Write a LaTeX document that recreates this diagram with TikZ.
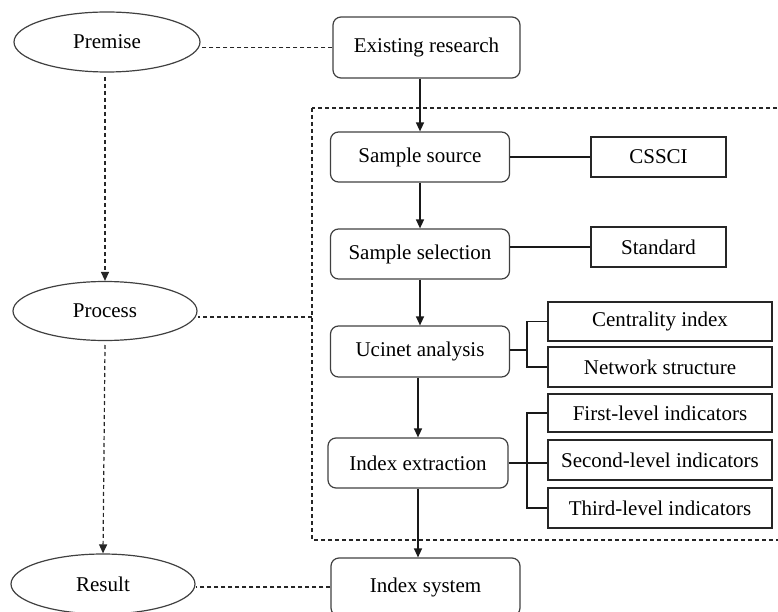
\documentclass[tikz,border=0pt]{standalone}
\usepackage{fontspec}
\setmainfont{Liberation Serif}
\newfontfamily\tnr{Liberation Serif}
\usetikzlibrary{shapes.geometric,arrows.meta}
\begin{document}
\begin{tikzpicture}[x=1pt,y=-1pt,
  every node/.style={font=\tnr\fontsize{21}{24}\selectfont, inner sep=0pt, text=black},
  stagebox/.style={draw=black!75, line width=1.2pt, ellipse},
  roundbox/.style={draw=black!75, line width=1.2pt, rounded corners=8pt, rectangle},
  sidebox/.style={draw=black!85, line width=1.3pt, rectangle, minimum width=135pt, minimum height=40pt},
  widebox/.style={draw=black!85, line width=1.3pt, rectangle, minimum width=224pt},
  dline/.style={draw=black!85, line width=1.2pt, dash pattern=on 4pt off 3pt},
  sline/.style={draw=black!90, line width=1.3pt},
  arr/.style={-{Triangle[length=9pt,width=8pt]}}
]
\useasboundingbox (0,0) rectangle (778,612);

% ellipses
\node[stagebox, minimum width=186pt, minimum height=60pt] (premise) at (107,42) {Premise};
\node[stagebox, minimum width=184pt, minimum height=59pt] (process) at (105,311) {Process};
\node[stagebox, minimum width=184pt, minimum height=60pt] (result) at (103,584) {Result};

% main column
\node[roundbox, minimum width=187pt, minimum height=61pt] (exist) at (426.5,47.5) {Existing research};
\node[roundbox, minimum width=179pt, minimum height=50pt] (ssource) at (420,157) {Sample source};
\node[roundbox, minimum width=179pt, minimum height=50pt] (ssel) at (420,254) {Sample selection};
\node[roundbox, minimum width=179pt, minimum height=51pt] (ucinet) at (420,351.5) {Ucinet analysis};
\node[roundbox, minimum width=180pt, minimum height=50pt] (iext) at (418,463) {Index extraction};
\node[roundbox, minimum width=189pt, minimum height=58pt] (isys) at (425.5,587) {Index system};

% side boxes
\node[sidebox] (cssci) at (658.5,157) {CSSCI};
\node[sidebox] (standard) at (658.5,247) {Standard};
\node[widebox, minimum height=39pt] (central) at (660,321.5) {Centrality index};
\node[widebox, minimum height=40pt] (network) at (660,367) {Network structure};
\node[widebox, minimum height=38pt] (first) at (660,413) {First-level indicators};
\node[widebox, minimum height=40pt] (second) at (660,460) {Second-level indicators};
\node[widebox, minimum height=40pt] (third) at (660,508) {Third-level indicators};

% dashed frame
\coordinate (frameNW) at (312,108);
\coordinate (frameSE) at (781,540);
\draw[dline] (frameNW) rectangle (frameSE);

% dashed links from stages
\draw[dline] (exist.west) -- (exist.west -| premise.east);
\coordinate (procTo) at (312,317);
\draw[dline] (procTo) -- (procTo -| process.east);
\draw[dline] (isys.west) -- (isys.west -| result.east);

% vertical dashed arrows
\coordinate (p1) at (105,77);
\coordinate (p2) at (105,345);
\draw[dline, arr] (p1) -- (process.north);
\draw[dline, arr] (p2) -- (result.north);

% main arrows
\draw[sline, arr] (ssource.north |- exist.south) -- (ssource.north);
\draw[sline, arr] (ssource.south) -- (ssel.north);
\draw[sline, arr] (ssel.south) -- (ucinet.north);
\draw[sline, arr] (ucinet.south -| iext.north) -- (iext.north);
\draw[sline, arr] (iext.south) -- (iext.south |- isys.north);

% side links
\draw[sline] (ssource.east) -- (cssci.west);
\draw[sline] (standard.west) -- (standard.west -| ssel.east);

\coordinate (b1) at (527,350);
\draw[sline] (ucinet.east |- b1) -- (b1);
\draw[sline] (central.west) -- (central.west -| b1) -- (network.west -| b1) -- (network.west);

\coordinate (b2) at (527,463);
\draw[sline] (iext.east) -- (iext.east -| second.west);
\draw[sline] (first.west) -- (first.west -| b2) -- (third.west -| b2) -- (third.west);
\end{tikzpicture}
\end{document}
